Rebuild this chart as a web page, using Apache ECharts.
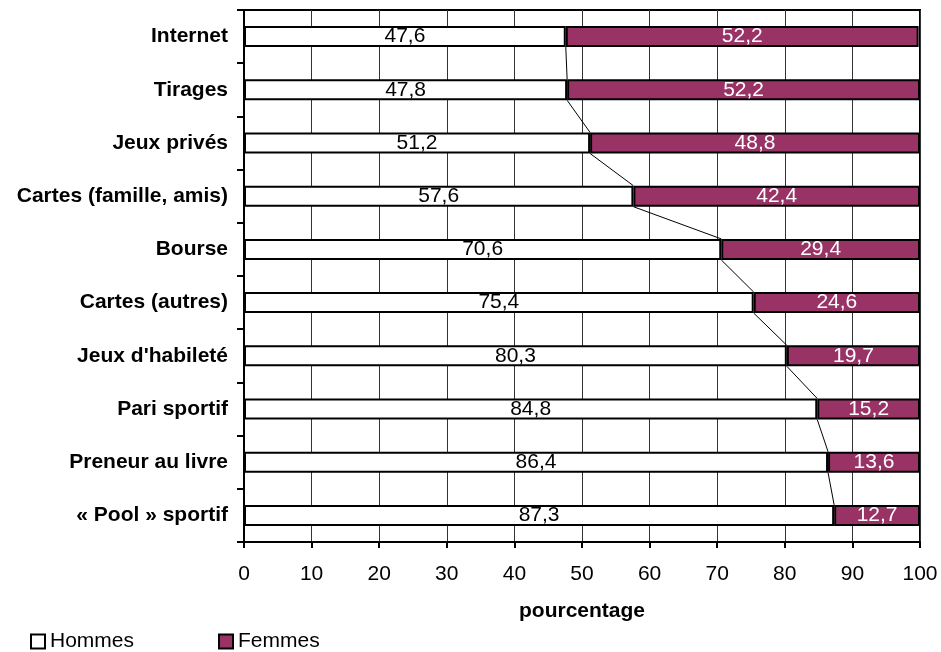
<!DOCTYPE html>
<html><head><meta charset="utf-8">
<script src="https://cdn.jsdelivr.net/npm/echarts@6/dist/echarts.min.js"></script>
<style>html,body{margin:0;padding:0;background:#fff}#c{width:941px;height:652px}</style>
</head><body><div id="c"></div>
<script>
const categories = ["Internet","Tirages","Jeux privés","Cartes (famille, amis)","Bourse","Cartes (autres)","Jeux d'habileté","Pari sportif","Preneur au livre","« Pool » sportif"];
const hommes = [47.6,47.8,51.2,57.6,70.6,75.4,80.3,84.8,86.4,87.3];
const femmes = [52.2,52.2,48.8,42.4,29.4,24.6,19.7,15.2,13.6,12.7];
const xTicks = [0,10,20,30,40,50,60,70,80,90,100];

const FONT = 'Liberation Sans, Arial, sans-serif';
const BAR_H = 21;
const linkData = [];
for (let i = 0; i < hommes.length - 1; i++) linkData.push([hommes[i], i, hommes[i+1]]);

const fmt = p => String(p.value).replace('.', ',');
const chart = echarts.init(document.getElementById('c'), null, {renderer:'canvas'});
chart.setOption({
  animation:false,
  backgroundColor:'#fff',
  grid:{left:244,right:21,top:10,bottom:110,show:true,borderColor:'#000',borderWidth:2,backgroundColor:'transparent'},
  legend:{
    left:25, top:626, itemWidth:14, itemHeight:14, itemGap:84,
    icon:'rect',
    textStyle:{fontFamily:FONT,fontSize:21,color:'#000'},
    data:['Hommes','Femmes']
  },
  xAxis:{
    type:'value', min:0, max:100, interval:10,
    name:'pourcentage', nameLocation:'middle', nameGap:59,
    nameTextStyle:{fontFamily:FONT,fontSize:21,fontWeight:'bold',color:'#000'},
    axisLine:{show:true,lineStyle:{color:'#000',width:2}},
    axisTick:{show:true,length:6,lineStyle:{color:'#000',width:2}},
    axisLabel:{fontFamily:FONT,fontSize:21,color:'#000',margin:22,
      formatter:v => xTicks.includes(v) ? String(v) : ''},
    splitLine:{show:true,lineStyle:{color:'#333',width:1}}
  },
  yAxis:{
    type:'category', data:categories, inverse:true,
    axisLine:{show:true,lineStyle:{color:'#000',width:2}},
    axisTick:{show:true,length:7,lineStyle:{color:'#000',width:2}},
    axisLabel:{fontFamily:FONT,fontSize:21,fontWeight:'bold',color:'#000',margin:16},
    splitLine:{show:false}
  },
  series:[
    {name:'Hommes',type:'bar',stack:'t',data:hommes,barWidth:BAR_H,
     itemStyle:{color:'#fff',borderColor:'#000',borderWidth:2},
     label:{show:true,position:'inside',color:'#000',fontFamily:FONT,fontSize:21,formatter:fmt}},
    {name:'Femmes',type:'bar',stack:'t',data:femmes,barWidth:BAR_H,
     itemStyle:{color:'#993366',borderColor:'#000',borderWidth:2},
     label:{show:true,position:'inside',color:'#fff',fontFamily:FONT,fontSize:21,formatter:fmt}},
    {type:'custom',name:'links',data:linkData,encode:{x:0,y:1},z:5,silent:true,
     renderItem:function(params, api){
       const i = api.value(1);
       const p0 = api.coord([api.value(0), i]);
       const p1 = api.coord([api.value(2), i+1]);
       return {type:'line',shape:{x1:p0[0],y1:p0[1]+BAR_H/2,x2:p1[0],y2:p1[1]-BAR_H/2},
               style:{stroke:'#000',lineWidth:1}};
     }}
  ]
});
</script></body></html>
